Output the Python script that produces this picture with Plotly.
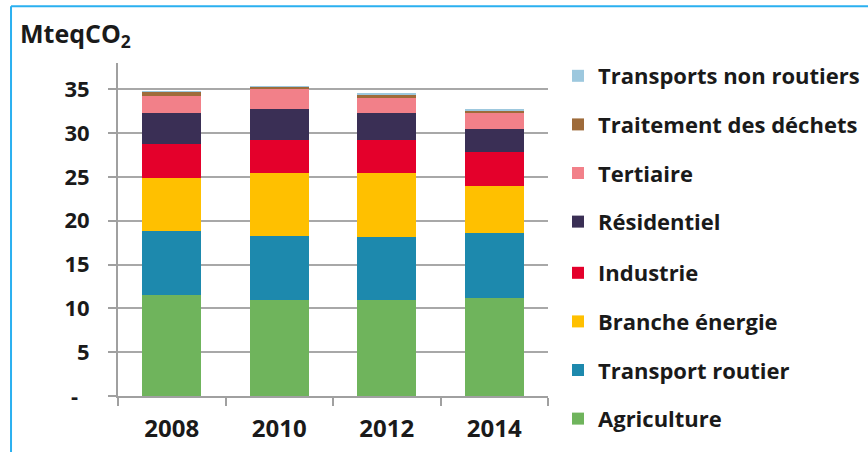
import plotly.graph_objects as go

years = ["2008", "2010", "2012", "2014"]

agriculture = [11.5, 11.0, 10.9, 11.2]
transport_routier = [7.35, 7.3, 7.3, 7.4]
branche_energie = [6.0, 7.1, 7.2, 5.4]
industrie = [3.95, 3.8, 3.8, 3.8]
residentiel = [3.45, 3.6, 3.05, 2.7]
tertiaire = [1.95, 2.3, 1.75, 1.75]
traitement_dechets = [0.5, 0.2, 0.45, 0.35]
transports_non_routiers = [0.05, 0.05, 0.05, 0.05]

y_ticks = [0, 5, 10, 15, 20, 25, 30, 35]
y_ticktext = ["-\u00a0\u00a0", "5", "10", "15", "20", "25", "30", "35"]

series = [
    ("Agriculture", agriculture, "#6FB45C"),
    ("Transport routier", transport_routier, "#1D89AD"),
    ("Branche énergie", branche_energie, "#FFC000"),
    ("Industrie", industrie, "#E4002B"),
    ("Résidentiel", residentiel, "#3A2F55"),
    ("Tertiaire", tertiaire, "#F28089"),
    ("Traitement des déchets", traitement_dechets, "#9E6B3A"),
    ("Transports non routiers", transports_non_routiers, "#9DC8DE"),
]

font_family = "'Open Sans', sans-serif"
txt = "#1a1a1a"

fig = go.Figure()
for n, (name, vals, col) in enumerate(series):
    # the legend is split in two stacked legends so plotly does not scroll it
    fig.add_trace(go.Bar(
        x=years, y=vals, name=name, legendgroup=name,
        legend="legend2" if n < 4 else "legend",
        legendrank=len(series) - n,  # top of the stack first in the legend
        marker=dict(color=col, line=dict(width=0)),
        width=0.55,
    ))

legend_style = dict(
    traceorder="grouped",
    tracegroupgap=17,
    x=1.0233, xanchor="left", yanchor="top",
    font=dict(size=22, family=font_family, color=txt, weight="bold"),
    bgcolor="rgba(0,0,0,0)",
)

fig.update_layout(
    barmode="stack",
    width=868, height=452,
    margin=dict(l=118, r=320, t=63, b=56, autoexpand=False),
    plot_bgcolor="white", paper_bgcolor="white",
    font=dict(family=font_family, color=txt),
    legend=dict(legend_style, y=1.024),
    legend2=dict(legend_style, y=0.4324),
    annotations=[dict(
        text="<b>MteqCO<sub>2</sub></b>", xref="paper", yref="paper",
        x=-0.2326, y=1.087, xanchor="left", yanchor="middle", showarrow=False,
        font=dict(size=25, family=font_family, color=txt),
    )],
    shapes=[
        dict(type="line", xref="paper", yref="paper", x0=-0.2488, x1=1.8, y0=1.1707, y1=1.1707,
             line=dict(color="#2BB0F0", width=2)),
        dict(type="line", xref="paper", yref="paper", x0=-0.2488, x1=-0.2488, y0=1.1707, y1=-0.3,
             line=dict(color="#2BB0F0", width=2)),
    ],
)

fig.update_xaxes(
    type="category", tickson="boundaries",
    ticks="outside", ticklen=8, tickcolor="#A0A0A0", tickwidth=2,
    showline=True, linecolor="#A0A0A0", linewidth=2,
    showgrid=False, ticklabelstandoff=10,
    tickfont=dict(size=24, family=font_family, color=txt, weight="bold"),
)
fig.update_yaxes(
    range=[0, 38], tickvals=y_ticks, ticktext=y_ticktext,
    ticks="outside", ticklen=8, tickcolor="#A0A0A0", tickwidth=2,
    showline=True, linecolor="#A0A0A0", linewidth=2,
    showgrid=True, gridcolor="#A8A8A8", gridwidth=2, zeroline=False,
    ticklabelstandoff=14,
    tickfont=dict(size=22, family=font_family, color=txt, weight="bold"),
)

fig.write_html("out.html", config={"displayModeBar": False},
               post_script="document.body.style.margin = '0px';")
